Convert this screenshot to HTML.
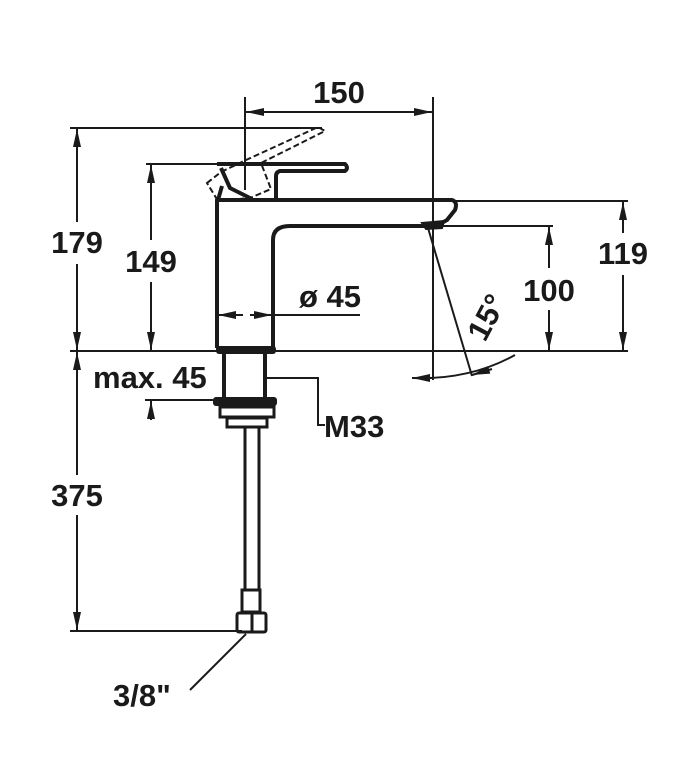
<!DOCTYPE html>
<html><head><style>html,body{margin:0;padding:0;background:#fff}svg{display:block}text{font-family:"Liberation Sans",sans-serif;font-weight:bold;font-size:31px;fill:#1a1a1a}</style></head>
<body>
<svg width="700" height="763" viewBox="0 0 700 763" xmlns="http://www.w3.org/2000/svg">
<defs>
<marker id="a" viewBox="0 0 18 8" refX="18" refY="4" markerWidth="18" markerHeight="8" orient="auto-start-reverse" markerUnits="userSpaceOnUse"><path d="M0,0 L18,4 L0,8z" fill="#1a1a1a"/></marker>
</defs>
<g stroke="#1a1a1a" fill="none" stroke-width="2">
<line x1="70" y1="351" x2="628" y2="351"/>
<line x1="70" y1="128" x2="322" y2="128"/>
<line x1="146" y1="164" x2="217" y2="164"/>
<line x1="70" y1="631" x2="242" y2="631"/>
<line x1="455" y1="201" x2="628" y2="201"/>
<line x1="440" y1="226" x2="553" y2="226"/>
<line x1="245" y1="97" x2="245" y2="190"/>
<line x1="433" y1="97" x2="433" y2="380"/>
<line x1="145" y1="400" x2="213" y2="400"/>
<path d="M77,129 L77,222" marker-start="url(#a)"/>
<path d="M77,264 L77,350" marker-end="url(#a)"/>
<path d="M151,165 L151,240" marker-start="url(#a)"/>
<path d="M151,282 L151,350" marker-end="url(#a)"/>
<path d="M151,420 L151,401" marker-end="url(#a)"/>
<path d="M77,352 L77,475" marker-start="url(#a)"/>
<path d="M77,515 L77,630" marker-end="url(#a)"/>
<path d="M246,112 L432,112" marker-start="url(#a)" marker-end="url(#a)"/>
<path d="M623,202 L623,233" marker-start="url(#a)"/>
<path d="M623,275 L623,350" marker-end="url(#a)"/>
<path d="M549,227 L549,268" marker-start="url(#a)"/>
<path d="M549,310 L549,350" marker-end="url(#a)"/>
<path d="M218,315 L243,315" marker-start="url(#a)"/>
<path d="M250,315 L272,315" marker-end="url(#a)"/>
<line x1="273" y1="315" x2="360" y2="315"/>
<line x1="428" y1="228" x2="472" y2="376"/>
<path d="M413,378 Q470,380 515,355"/>
<path d="M434,378 L412,378" marker-end="url(#a)"/>
<path d="M492,369 L472,375" marker-end="url(#a)"/>
<g stroke-width="4" stroke-linejoin="round">
<path d="M217,348 L217,200 L452,200 Q458,202 455,210 L447,220 Q438,226 428,226"/>
<path d="M273,348 L273,240 Q273,226 290,226 L432,226"/>
<path d="M217,164 L345,164 Q349,168 345,171 L280,171 Q276,172 276,176 L276,200"/>
<path d="M221,168 L230,188 L252,199"/>
<path d="M222,186 L218,200"/>
</g>
<path d="M422,223 L444,221 L442,228 L426,229z" fill="#1a1a1a"/>
<path d="M207,183 L221,172 L246,160 L318,127 L325,131 L261,163 L271,189 L250,198 L218,201 Z" stroke-dasharray="6,3"/>
<rect x="216" y="346" width="60" height="8" rx="3" fill="#1a1a1a" stroke="none"/>
<g stroke-width="4">
<line x1="224" y1="354" x2="224" y2="398"/>
<line x1="265" y1="354" x2="265" y2="398"/>
</g>
<rect x="213" y="397" width="64" height="9" rx="3" fill="#1a1a1a" stroke="none"/>
<rect x="220" y="407" width="54" height="10" stroke-width="3"/>
<rect x="227" y="418" width="40" height="9" stroke-width="3"/>
<g stroke-width="3">
<line x1="245" y1="428" x2="245" y2="590"/>
<line x1="259" y1="428" x2="259" y2="590"/>
<rect x="242" y="590" width="18" height="22"/>
<rect x="237" y="613" width="29" height="19" rx="2"/>
<line x1="252" y1="613" x2="252" y2="632"/>
</g>
<path d="M263,378 L318,378 L318,425 L325,425"/>
<path d="M190,690 L246,634"/>
</g>
<g>
<text x="77" y="253" text-anchor="middle">179</text>
<text x="151" y="272" text-anchor="middle">149</text>
<text x="77" y="506" text-anchor="middle">375</text>
<text x="339" y="103" text-anchor="middle">150</text>
<text x="623" y="264" text-anchor="middle">119</text>
<text x="549" y="301" text-anchor="middle">100</text>
<text x="330" y="307" text-anchor="middle">ø 45</text>
<text x="93" y="388">max. 45</text>
<text x="324" y="437">M33</text>
<text x="113" y="706">3/8"</text>
<text x="0" y="0" transform="translate(485,343) rotate(-62)">15°</text>
</g>
</svg>
</body></html>
